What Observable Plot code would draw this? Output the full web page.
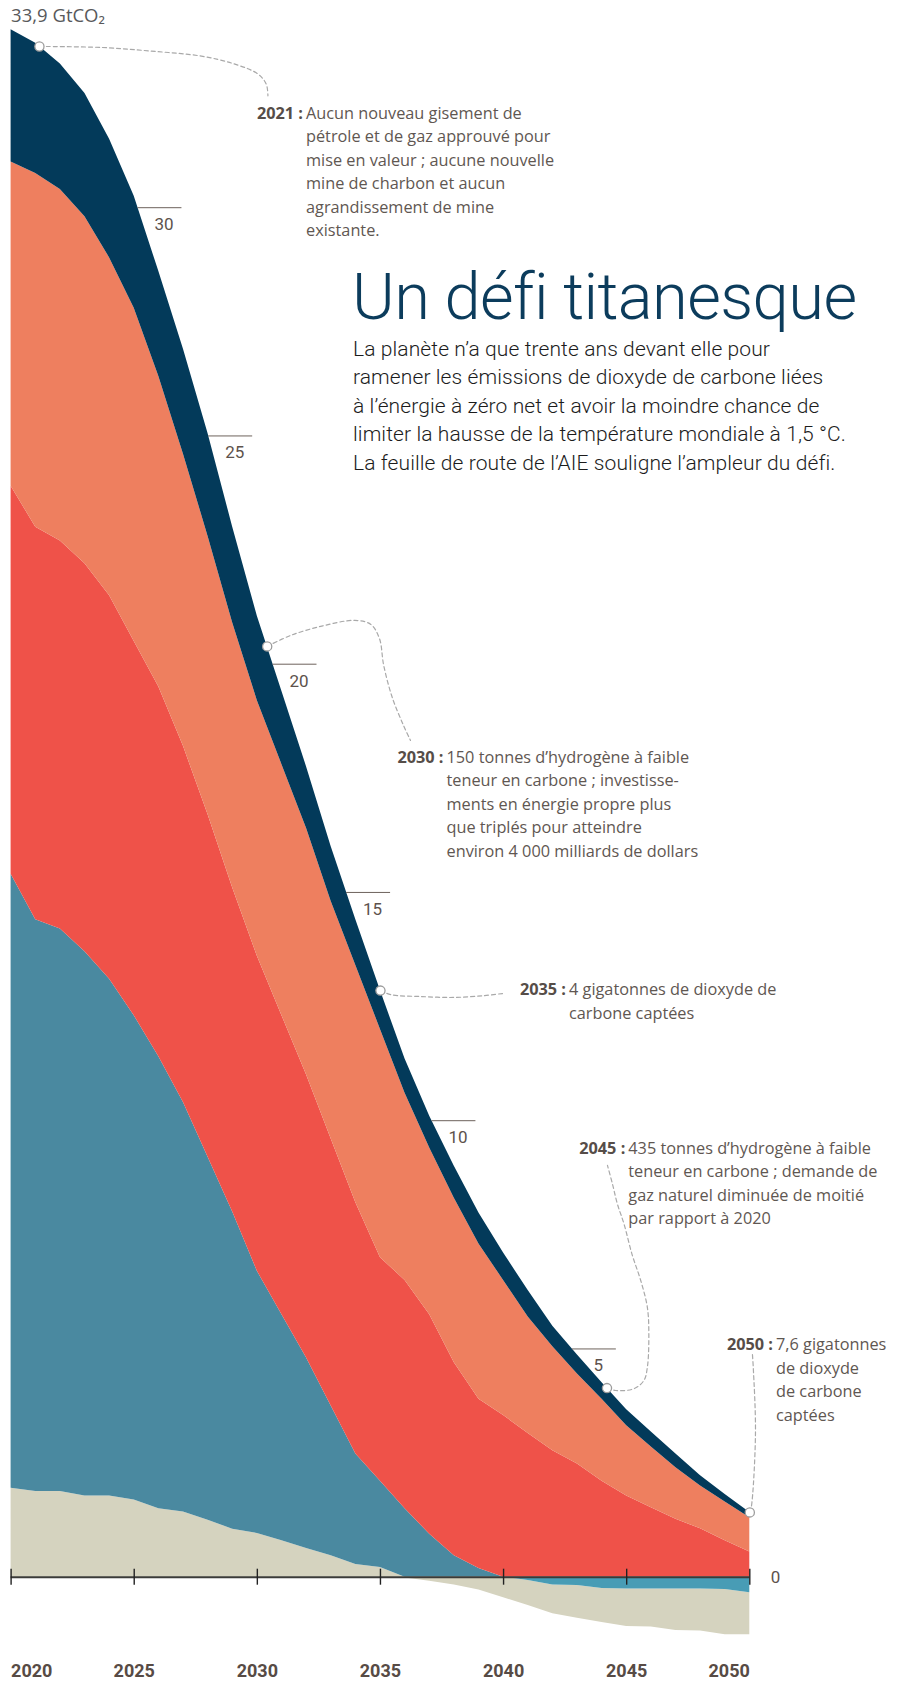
<!DOCTYPE html>
<html lang="fr">
<head>
<meta charset="utf-8">
<script src="https://cdn.jsdelivr.net/npm/d3@7"></script>
<script src="https://cdn.jsdelivr.net/npm/@observablehq/plot@0.6"></script>
<style>
  html, body { margin: 0; padding: 0; background: #fff; }
  #root { position: relative; width: 908px; height: 1681px; overflow: hidden; }
  #root svg { position: absolute; left: 0; top: 0; }
  .title { position: absolute; left: 352px; top: 272px; font-family: Roboto, sans-serif; font-weight: 300;
           font-size: 65px; line-height: 50px; color: #0c3c5c; letter-spacing: -0.6px; white-space: nowrap; }
  .sub { position: absolute; left: 353px; top: 334.5px; font-family: Roboto, sans-serif; font-weight: 300;
         font-size: 21px; line-height: 28.6px; color: #1c1c1c; letter-spacing: 0.1px; white-space: nowrap; }
  .ann { position: absolute; font-family: "Open Sans", sans-serif; font-size: 16.3px;
         line-height: 23.6px; color: #5f5752; white-space: nowrap; }
  .ann b { position: absolute; top: 0; font-weight: 700; color: #564d48; text-align: right; }
</style>
</head>
<body>
<div id="root"></div>
<script>
// ---------- DATA ----------
const years = [2020,2021,2022,2023,2024,2025,2026,2027,2028,2029,2030,
               2031,2032,2033,2034,2035,2036,2037,2038,2039,2040,
               2041,2042,2043,2044,2045,2046,2047,2048,2049,2050];

const seriesNames = ["Autres", "Électricité et chaleur", "Industrie", "Transports", "Bâtiments"];

// GtCO2 per sector
const autres      = [1.95,1.88,1.88,1.78,1.78,1.69,1.50,1.43,1.25,1.05,0.96,
                     0.80,0.63,0.47,0.28,0.21,-0.02,-0.09,-0.17,-0.28,-0.45,
                     -0.55,-0.63,-0.72,-0.74,-0.82,-0.83,-0.91,-0.92,-0.99,-0.92];
const electricite = [13.45,12.52,12.32,11.92,11.32,10.61,9.90,8.97,7.95,6.95,5.74,
                     4.95,4.17,3.28,2.42,1.89,1.50,0.94,0.47,0.19,0.00,
                     -0.07,-0.17,-0.18,-0.25,-0.26,-0.26,-0.26,-0.26,-0.27,-0.34];
const industrie   = [8.5,8.6,8.5,8.5,8.4,8.2,8.1,7.8,7.5,7.1,6.9,
                     6.55,6.2,5.85,5.5,4.9,5.0,4.81,4.23,3.71,3.54,
                     3.15,2.77,2.48,2.1,1.78,1.52,1.27,1.06,0.8,0.55];
const transports  = [7.1,7.75,7.7,7.6,7.4,7.3,6.8,6.4,6.1,5.8,5.6,
                     5.5,5.4,5.2,5.2,5.0,4.1,3.65,3.6,3.4,2.96,
                     2.55,2.28,1.97,1.8,1.54,1.33,1.13,0.94,0.85,0.75];
const batiments   = [2.9,2.85,2.75,2.7,2.6,2.45,2.3,2.3,2.25,2.1,1.85,
                     1.6,1.35,1.2,1.0,0.85,0.75,0.7,0.7,0.68,0.6,
                     0.58,0.45,0.42,0.36,0.35,0.33,0.3,0.22,0.16,0.12];

const valueTicks = [5, 10, 15, 20, 25, 30];
const yearTicks  = [2020, 2025, 2030, 2035, 2040, 2045, 2050];
const unitLabel  = "GtCO₂";

const annotationYears = ["2021", "2030", "2035", "2045", "2050"];
const annotationTexts = [
  ["Aucun nouveau gisement de", "pétrole et de gaz approuvé pour", "mise en valeur ; aucune nouvelle",
   "mine de charbon et aucun", "agrandissement de mine", "existante."],
  ["150 tonnes d’hydrogène à faible", "teneur en carbone ; investisse-", "ments en énergie propre plus",
   "que triplés pour atteindre", "environ 4 000 milliards de dollars"],
  ["4 gigatonnes de dioxyde de", "carbone captées"],
  ["435 tonnes d’hydrogène à faible", "teneur en carbone ; demande de", "gaz naturel diminuée de moitié",
   "par rapport à 2020"],
  ["7,6 gigatonnes", "de dioxyde", "de carbone", "captées"]
];

const titleText = "Un défi titanesque";
const subtitleLines = [
  "La planète n’a que trente ans devant elle pour",
  "ramener les émissions de dioxyde de carbone liées",
  "à l’énergie à zéro net et avoir la moindre chance de",
  "limiter la hausse de la température mondiale à 1,5 °C.",
  "La feuille de route de l’AIE souligne l’ampleur du défi."
];

// ---------- LAYOUT (annotation placement) ----------
const annotationLayout = [
  {dotYear: 2021.15, textLeft: 306, top: 101.5,
   path: [[2023.67,33.51],[2025.70,33.43],[2027.73,33.32],[2029.06,33.15],[2030.02,32.93],[2030.36,32.71],[2030.43,32.45]]},
  {dotYear: 2030.4, textLeft: 446.5, top: 745.5,
   path: [[2031.35,20.63],[2032.66,20.84],[2033.96,20.96],[2034.61,20.87],[2034.96,20.56],[2035.13,19.98],[2035.48,19.27],[2035.92,18.68],[2036.22,18.33]]},
  {dotYear: 2035.0, textLeft: 569, top: 978,
   path: [[2035.43,12.76],[2036.65,12.72],[2038.0,12.70],[2039.21,12.74],[2040.02,12.79]]},
  {dotYear: 2044.2, textLeft: 628.3, top: 1136.5,
   path: [[2044.55,4.09],[2045.30,4.13],[2045.70,4.31],[2045.84,4.60],[2045.90,5.33],[2045.84,5.91],[2045.57,6.50],[2045.23,7.05],[2044.89,7.74],[2044.62,8.18],[2044.42,8.62],[2044.22,9.02]]},
  {dotYear: 2050.0, textLeft: 776, top: 1333,
   path: [[2050.06,1.53],[2050.23,3.14],[2050.14,4.60],[2050.10,4.93]]}
];

const W = 908, H = 1681;
const Y0 = 1576.7, PX_PER_UNIT = 45.65;
const colorRange = ["#d5d3bf", "#4a89a0", "#ef5249", "#ee7f5f", "#033a5a", "#d5d3bf", "#489cb5"];
const narrow = "Roboto, sans-serif";

// ---------- DERIVED TABLES ----------
const seriesValues = [autres, electricite, industrie, transports, batiments];
const NEG = " (sous zéro)";
const posRows = [], negRows = [];
seriesNames.forEach((s, k) => {
  const vals = seriesValues[k];
  const hasNeg = vals.some(v => v < 0);
  years.forEach((yr, i) => {
    posRows.push({year: yr, serie: s, value: Math.max(vals[i], 0)});
    if (hasNeg) negRows.push({year: yr, serie: s + NEG, value: Math.min(vals[i], 0)});
  });
});
const negOrder = ["Électricité et chaleur" + NEG, "Autres" + NEG];
const colorDomain = [...seriesNames, "Autres" + NEG, "Électricité et chaleur" + NEG];

// top of the positive stack
const totals = years.map((_, i) => d3.sum(seriesValues, s => Math.max(s[i], 0)));
function totalAt(yr) {
  const i = Math.min(Math.max(Math.floor(yr - years[0]), 0), years.length - 2);
  const t = yr - years[i];
  return totals[i] + (totals[i + 1] - totals[i]) * t;
}
// where the top edge crosses each value tick
const tickCross = valueTicks.map(v => {
  for (let i = 0; i < years.length - 1; i++) {
    if (totals[i] >= v && totals[i + 1] < v) {
      return {v, x: years[i] + (totals[i] - v) / (totals[i] - totals[i + 1])};
    }
  }
  return {v, x: years[0]};
});

const dotRows = annotationLayout.map((a, k) => ({id: k, x: a.dotYear, y: totalAt(a.dotYear)}));
const connRows = [];
annotationLayout.forEach((a, k) => {
  connRows.push({id: k, x: dotRows[k].x, y: dotRows[k].y});
  a.path.forEach(([x, y]) => connRows.push({id: k, x, y}));
});

const fmt = v => v.toFixed(1).replace(".", ",");
const yearLabelStyle = {frameAnchor: "bottom", lineAnchor: "bottom", dy: -5, text: d => String(d),
  fontFamily: narrow, fontWeight: "bold", fontSize: 18, fill: "#574b45"};

// ---------- CHART ----------
const chart = Plot.plot({
  width: W, height: H,
  marginLeft: 0, marginRight: 0, marginTop: 0, marginBottom: 0,
  x: {domain: [years[0], years[years.length - 1]], range: [10.6, 749.3], axis: null},
  y: {domain: [-1.8, 33.9], range: [Y0 + 1.8 * PX_PER_UNIT, Y0 - 33.9 * PX_PER_UNIT], axis: null},
  color: {domain: colorDomain, range: colorRange},
  style: {background: "transparent", overflow: "visible"},
  marks: [
    Plot.areaY(posRows, Plot.stackY({x: "year", y: "value", z: "serie", fill: "serie", order: seriesNames})),
    Plot.areaY(negRows, Plot.stackY({x: "year", y: "value", z: "serie", fill: "serie", order: negOrder})),
    // baseline axis
    Plot.ruleY([0], {x1: years[0], x2: years[years.length - 1], stroke: "#3b3b38", strokeWidth: 2}),
    Plot.ruleX(yearTicks, {x: d => d, y1: 0, y2: 0, insetTop: -8, insetBottom: -8, stroke: "#222", strokeWidth: 1.4}),
    // year labels
    Plot.text(yearTicks.slice(0, 1), {x: d => d, textAnchor: "start", ...yearLabelStyle}),
    Plot.text(yearTicks.slice(1, -1), {x: d => d, textAnchor: "middle", ...yearLabelStyle}),
    Plot.text(yearTicks.slice(-1), {x: d => d, textAnchor: "end", ...yearLabelStyle}),
    // zero label
    Plot.text([0], {x: () => years[years.length - 1], y: d => d, dx: 21, text: d => String(d), textAnchor: "start",
      fontFamily: narrow, fontSize: 17, fill: "#5d524c"}),
    // value ticks along the top edge
    Plot.ruleY(tickCross, {y: "v", x1: "x", x2: "x", insetRight: -44, stroke: "#6d625c", strokeWidth: 1}),
    Plot.text(tickCross, {x: "x", y: "v", dx: 26, dy: 17, text: d => String(d.v), textAnchor: "middle",
      fontFamily: narrow, fontSize: 17, fill: "#5d524c"}),
    // top value label
    Plot.text([totals[0]], {x: () => years[0], y: d => d, dy: -7.4, lineAnchor: "bottom", textAnchor: "start",
      text: d => fmt(d) + " " + unitLabel, fontFamily: "'Open Sans', sans-serif", fontSize: 18.5, fill: "#58595b"}),
    // annotation connectors and dots
    Plot.line(connRows, {x: "x", y: "y", z: "id", curve: "catmull-rom", stroke: "#a9a9a9", strokeWidth: 1.2,
      strokeDasharray: "4,3", fill: "none"}),
    Plot.dot(dotRows, {x: "x", y: "y", r: 4.6, fill: "white", stroke: "#9c9c9c", strokeWidth: 1.3})
  ]
});

const root = document.getElementById("root");
root.appendChild(chart);

// ---------- TEXT OVERLAYS ----------
const t = document.createElement("div");
t.className = "title";
t.textContent = titleText;
root.appendChild(t);

const sub = document.createElement("div");
sub.className = "sub";
sub.innerHTML = subtitleLines.join("<br>");
root.appendChild(sub);

annotationLayout.forEach((a, k) => {
  const d = document.createElement("div");
  d.className = "ann";
  d.style.left = a.textLeft + "px";
  d.style.top = a.top + "px";
  const b = document.createElement("b");
  b.style.right = "calc(100% + 3px)";
  b.textContent = annotationYears[k] + " :";
  const body = document.createElement("div");
  body.innerHTML = annotationTexts[k].join("<br>");
  d.appendChild(b);
  d.appendChild(body);
  root.appendChild(d);
});
</script>
</body>
</html>
